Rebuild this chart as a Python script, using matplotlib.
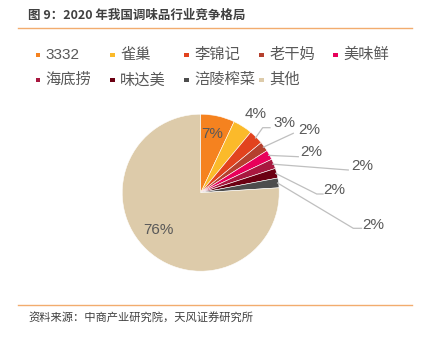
import matplotlib
matplotlib.use("Agg")
import matplotlib.pyplot as plt
from matplotlib.patches import Rectangle
import numpy as np

plt.rcParams['font.family'] = ['Liberation Sans', 'Noto Sans CJK SC', 'DejaVu Sans']

categories = ['3332', '雀巢', '李锦记', '老干妈', '美味鲜', '海底捞', '味达美', '涪陵榨菜', '其他']
values = [7, 4, 3, 2, 2, 2, 2, 2, 76]
colors = ['#F5821F', '#FBBA2A', '#E2431E', '#B5402E', '#E8005A',
          '#A8183F', '#6B0012', '#4D4D4D', '#DDCBAA']
title = '图 9：2020 年我国调味品行业竞争格局'
source = '资料来源：中商产业研究院，天风证券研究所'

W, H = 424, 352
fig = plt.figure(figsize=(W / 100, H / 100), dpi=100)

# pie drawn in its own axes positioned in pixel space
cx, cy, r = 200.7, 192.7, 78.5
pax = fig.add_axes([(cx - r) / W, 1 - (cy + r) / H, 2 * r / W, 2 * r / H])
wedges, _ = pax.pie(values, colors=colors, startangle=90, counterclock=False,
                    radius=1, wedgeprops=dict(linewidth=0.4, edgecolor='white'))
pax.set_xlim(-1, 1)
pax.set_ylim(-1, 1)
pax.set_aspect('equal')
pax.axis('off')

ax = fig.add_axes([0, 0, 1, 1])
ax.set_xlim(0, W)
ax.set_ylim(H, 0)
ax.axis('off')
ax.patch.set_alpha(0)
ax.set_zorder(3)

tc = '#595959'
lc = '#BFBFBF'
total = sum(values)
cum = np.cumsum([0] + values)
mids = [(cum[i] + cum[i + 1]) / 2 / total * 360 for i in range(len(values))]

def edge(i, rr=r):
    a = np.deg2rad(mids[i])
    return cx + rr * np.sin(a), cy - rr * np.cos(a)

def pct(v):
    return f'{v / total * 100:.0f}%'

fs_lab = 11
# inside labels
ax.text(212, 134, pct(values[0]), ha='center', va='center', fontsize=fs_lab, color=tc)
ax.text(158, 230, pct(values[8]), ha='center', va='center', fontsize=fs_lab, color=tc)
# 4% outside, no leader
ax.text(245, 114, pct(values[1]), ha='left', va='center', fontsize=fs_lab, color=tc)

# outside labels with leader lines: (index, elbow, line end, text x, text y)
leaders = [
    (2, (262.7, 127.7), (270, 127.7), 273, 123),
    (3, (293.3, 133.3), (293.3, 133.3), 298, 130),
    (4, (298.3, 156.7), (298.3, 156.7), 300, 152.5),
    (5, (348.3, 170), (348.3, 170), 351.5, 166),
    (6, (316.7, 194), (323, 194), 323, 189.5),
    (7, (353.3, 228.3), (361.5, 228.3), 362.5, 225),
]
for i, elb, end, tx, ty in leaders:
    sx, sy = edge(i, r - 1)
    ax.plot([sx, elb[0], end[0]], [sy, elb[1], end[1]], color=lc, lw=0.9)
    ax.text(tx, ty, pct(values[i]), ha='left', va='center', fontsize=fs_lab, color=tc)

# title and rules
ax.text(28, 15, title, ha='left', va='center', fontsize=9, fontweight='bold',
        color='#404040', family=['Noto Sans CJK SC'])
ax.plot([18.3, 411.7], [27.7, 27.7], color='#F2AC6E', lw=1.0)
ax.plot([18.3, 411.7], [305, 305], color='#F2AC6E', lw=1.0)
ax.text(28, 318.5, source, ha='left', va='center', fontsize=8.1, color='#404040',
        family=['Noto Sans CJK SC'])

# legend
mx = [35.7, 110, 184.3, 259, 333.3]
rows = [55, 80]
for k, (cat, col) in enumerate(zip(categories, colors)):
    row, c = divmod(k, 5)
    x0, y0 = mx[c], rows[row]
    ax.add_patch(Rectangle((x0, y0 - 2.3), 4.6, 4.6, facecolor=col, edgecolor='none'))
    ax.text(x0 + 10, y0, cat, ha='left', va='center', fontsize=11, color=tc)

fig.savefig('out.png', dpi=100)
